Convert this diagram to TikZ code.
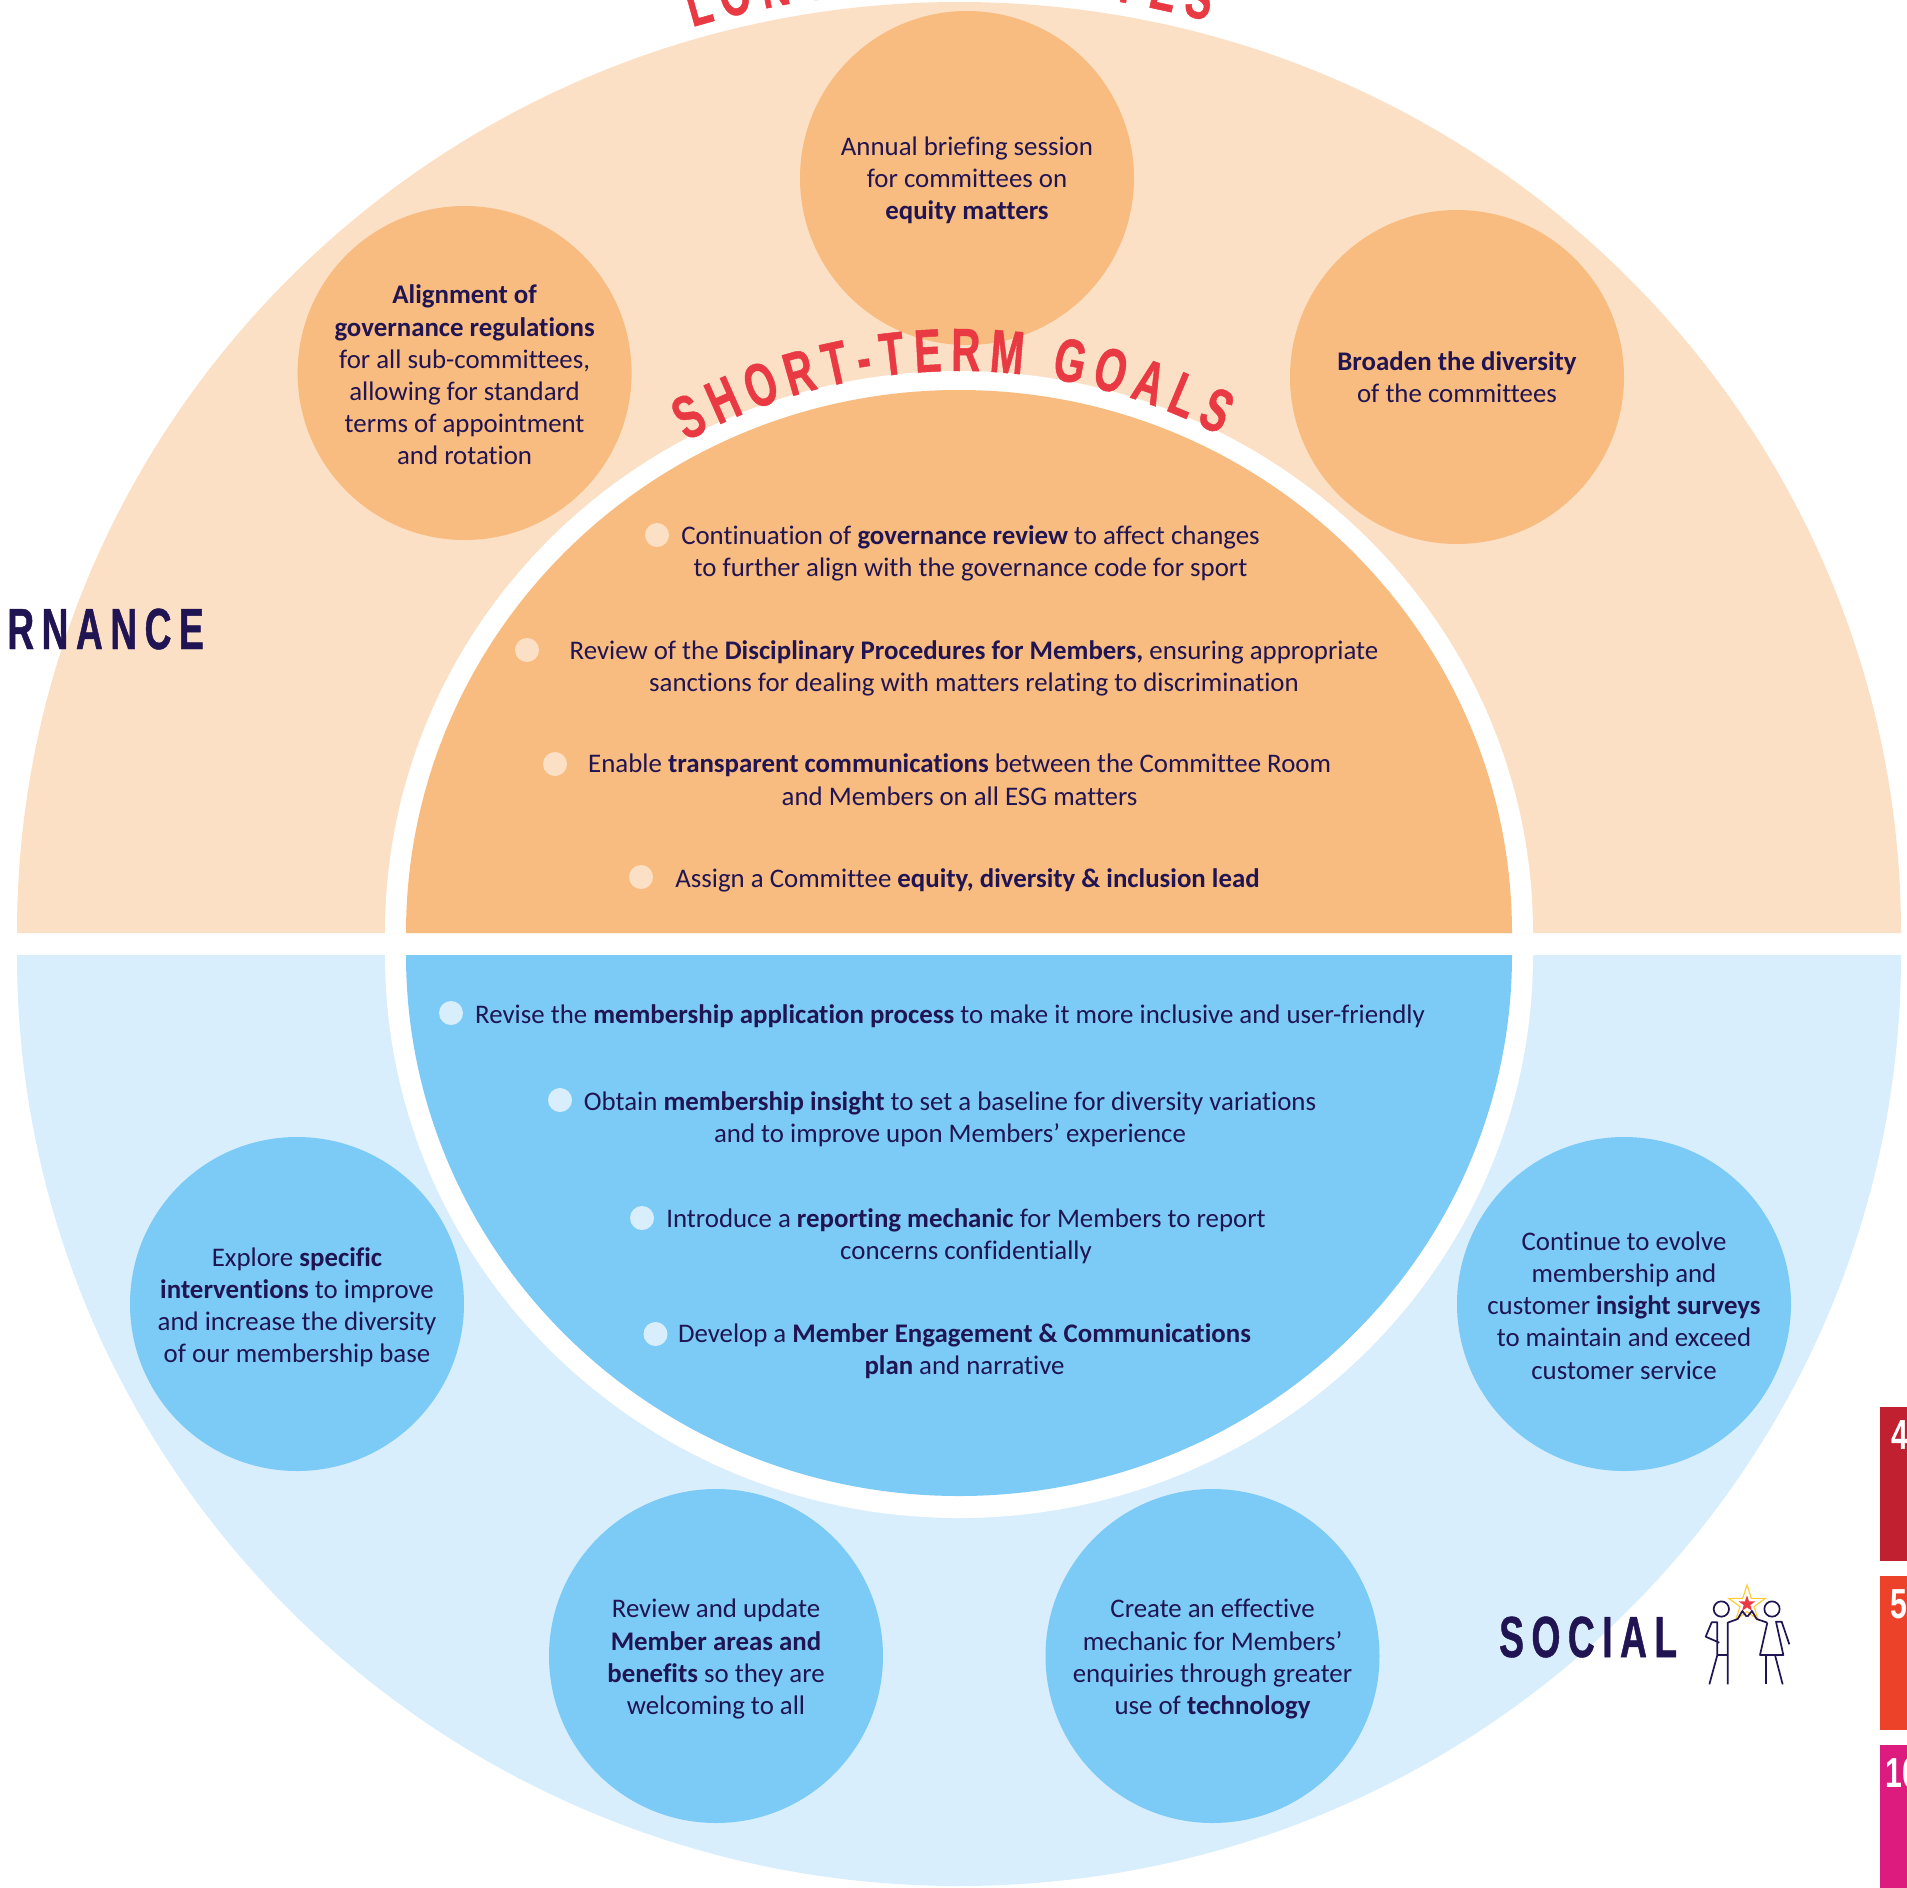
\documentclass[tikz,border=0pt]{standalone}
\usepackage{fontspec}
\usetikzlibrary{decorations.text}
\setmainfont[Ligatures=NoCommon]{Carlito}
\newfontfamily\headfont[FakeStretch=0.64,FakeBold=0.8,LetterSpace=13]{Liberation Sans Bold}
\newfontfamily\curvefont[FakeStretch=0.66,FakeBold=0.8]{Liberation Sans Bold}
\newfontfamily\numfont[FakeStretch=0.72]{Liberation Sans Bold}
\definecolor{paleorange}{HTML}{FCE0C5}
\definecolor{midorange}{HTML}{F9BC80}
\definecolor{paleblue}{HTML}{D9EEFD}
\definecolor{midblue}{HTML}{7BCBF6}
\definecolor{navy}{HTML}{201452}
\definecolor{markred}{HTML}{E93A43}
\definecolor{starline}{HTML}{FFCB2E}
\definecolor{goalfour}{HTML}{C0202F}
\definecolor{goalfive}{HTML}{EC4229}
\definecolor{goalten}{HTML}{DD1B7F}
\tikzset{
  bodytext/.style={text=navy,align=center,inner sep=0pt,font=\fontsize{26.85}{32.2}\selectfont},
  disc/.style={circle,minimum size=334,inner sep=0pt},
  orangedisc/.style={disc,fill=midorange},
  bluedisc/.style={disc,fill=midblue},
  orangedot/.style={circle,minimum size=24,inner sep=0pt,fill=paleorange},
  bluedot/.style={circle,minimum size=24,inner sep=0pt,fill=paleblue},
  headtext/.style={text=navy,inner sep=0pt,font=\headfont\fontsize{58}{58}\selectfont},
  arcletter/.style={text=markred,inner sep=0pt,anchor=base,font=\curvefont\fontsize{60}{60}\selectfont},
  goalnum/.style={text=white,inner sep=0pt,anchor=west,font=\numfont\fontsize{42}{42}\selectfont},
  iconline/.style={draw=navy,line width=1.7pt,line join=round},
}
\begin{document}
\begin{tikzpicture}[x=1pt,y=-1pt]
\useasboundingbox (0,0) rectangle (1907,1888);
\clip (0,0) rectangle (1907,1888);
% large half discs
\fill[paleorange] (17,933) arc[start angle=180,end angle=360,x radius=942,y radius=931] -- cycle;
\fill[paleblue] (17,955) arc[start angle=180,end angle=0,x radius=942,y radius=931] -- cycle;
% top clipped heading fragments
\foreach \lx/\la/\lt in {704/-15.8/L,739/-13.6/O,778/-11.2/N,818/-8.8/G,1123/10/I,1160/12.3/E,1195/14.4/S}{
  \node[arcletter,rotate=-\la] at (\lx,{933-945*cos(\la)}) {\lt};
}
% outer discs
\node[orangedisc] (c1) at (967,178) {};
\node[bodytext] (c1t) at (967,180.4) {Annual briefing session\\for committees on\\\textbf{equity matters}};
\node[orangedisc] (c2) at (464.6,373) {};
\node[bodytext] (c2t) at (464.6,375) {\textbf{Alignment of}\\\textbf{governance regulations}\\for all sub-committees,\\allowing for standard\\terms of appointment\\and rotation};
\node[orangedisc] (c3) at (1457,377) {};
\node[bodytext] (c3t) at (1457,377) {\textbf{Broaden the diversity}\\of the committees};
\node[bluedisc] (c4) at (297,1304) {};
\node[bodytext] (c4t) at (297,1307.2) {Explore \textbf{specific}\\\textbf{interventions} to improve\\and increase the diversity\\of our membership base};
\node[bluedisc] (c5) at (1624,1304) {};
\node[bodytext] (c5t) at (1624,1305.4) {Continue to evolve\\membership and\\customer \textbf{insight surveys}\\to maintain and exceed\\customer service};
\node[bluedisc] (c6) at (716,1656) {};
\node[bodytext] (c6t) at (716,1659.2) {Review and update\\\textbf{Member areas and}\\\textbf{benefits} so they are\\welcoming to all};
\node[bluedisc] (c7) at (1212.5,1656) {};
\node[bodytext] (c7t) at (1212.5,1659.2) {Create an effective\\mechanic for Members’\\enquiries through greater\\use of \textbf{technology}};
% white ring and inner half discs
\fill[white] (385,933) arc[start angle=180,end angle=360,x radius=574,y radius=562] -- cycle;
\fill[white] (385,955) arc[start angle=180,end angle=0,x radius=574,y radius=563] -- cycle;
\fill[midorange] (406,933) arc[start angle=180,end angle=360,x radius=553,y radius=543] -- cycle;
\fill[midblue] (406,955) arc[start angle=180,end angle=0,x radius=553,y radius=541] -- cycle;
% curved heading
\begin{scope}[shift={(959,933)}]
\path[decorate,decoration={text along path,text color=markred,text align={fit to path},
  text={|\curvefont\fontsize{61}{61}\selectfont|SHORT-TERM GOALS}}]
  (241:562) arc[start angle=241,end angle=297.6,radius=562];
\end{scope}
% short term goals, orange
\node[orangedot] (d1) at (657,535) {};
\node[bodytext] (t1) at (970.5,553.6) {Continuation of \textbf{governance review} to affect changes\\to further align with the governance code for sport};
\node[orangedot] (d2) at (527,650) {};
\node[bodytext] (t2) at (974,668) {Review of the \textbf{Disciplinary Procedures for Members,} ensuring appropriate\\sanctions for dealing with matters relating to discrimination};
\node[orangedot] (d3) at (555,764) {};
\node[bodytext] (t3) at (959.6,779.6) {Enable \textbf{transparent communications} between the Committee Room\\and Members on all ESG matters};
\node[orangedot] (d4) at (641,877) {};
\node[bodytext] (t4) at (967.5,880.4) {Assign a Committee \textbf{equity, diversity \& inclusion lead}};
% short term goals, blue
\node[bluedot] (d5) at (451,1013) {};
\node[bodytext] (t5) at (950,1016.4) {Revise the \textbf{membership application process} to make it more inclusive and user-friendly};
\node[bluedot] (d6) at (560,1100) {};
\node[bodytext] (t6) at (950,1119) {Obtain \textbf{membership insight} to set a baseline for diversity variations\\and to improve upon Members’ experience};
\node[bluedot] (d7) at (642,1218) {};
\node[bodytext] (t7) at (966,1236) {Introduce a \textbf{reporting mechanic} for Members to report\\concerns confidentially};
\node[bluedot] (d8) at (655.5,1334) {};
\node[bodytext] (t8) at (964.5,1351.5) {Develop a \textbf{Member Engagement \& Communications}\\\textbf{plan} and narrative};
% side labels
\node[headtext,anchor=base east] (gov) at (204,649) {ERNANCE};
\node[headtext,anchor=base west] (soc) at (1499,1657) {SOCIAL};
% goal tabs
\fill[goalfour] (1880,1407) rectangle (1907,1561);
\fill[goalfive] (1880,1576) rectangle (1907,1730);
\fill[goalten] (1880,1745) rectangle (1907,1888);
\node[goalnum] (g4) at (1891,1435) {4};
\node[goalnum] (g5) at (1890,1604) {5};
\node[goalnum] (g10) at (1885,1773) {10};
% icon
\begin{scope}[shift={(1690,1575)},x=0.3333pt,y=-0.3333pt]
\draw[draw=starline,line width=1.1pt,line join=miter]
  (171,30)--(184,70)--(226,70)--(192,95)--(205,135)--(171,110)--(137,135)--(150,95)--(116,70)--(158,70)--cycle;
\fill[markred]
  (171,61)--(177,79)--(196,79)--(181,90)--(186,108)--(171,97)--(156,108)--(161,90)--(146,79)--(165,79)--cycle;
\draw[iconline] (94,102) circle[radius=23];
\draw[iconline] (246,102) circle[radius=23];
\draw[iconline] (58,328)--(82,240)--(82,142)--(65,142)--(47,185)--(88,203);
\draw[iconline] (82,240)--(113,240);
\draw[iconline] (113,328)--(113,143)--(143,132)--(157,108)--(170,125);
\draw[iconline] (227,328)--(227,240);
\draw[iconline] (278,328)--(255,240);
\draw[iconline] (232,143)--(210,240)--(280,240)--(258,140)--(275,140)--(298,208);
\draw[iconline] (232,143)--(200,132)--(186,108)--(172,125);
\end{scope}
\end{tikzpicture}
\end{document}
